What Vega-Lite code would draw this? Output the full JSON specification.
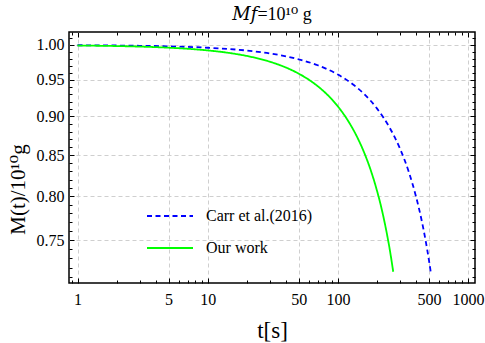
{
  "$schema": "https://vega.github.io/schema/vega-lite/v6.json",
  "width": 406,
  "height": 251,
  "autosize": {"type": "none"},
  "padding": {"left": 69, "top": 32, "right": 10, "bottom": 60},
  "background": "white",
  "title": {"text": "𝑀𝑓=10¹⁰ g", "font": "Liberation Serif, DejaVu Serif", "fontSize": 18, "fontWeight": "normal", "color": "black", "frame": "group", "anchor": "middle", "offset": 12, "dy": 18, "baseline": "alphabetic"},
  "config": {
    "view": {"stroke": "black", "strokeWidth": 1.5},
    "axis": {"domain": false, "tickColor": "black", "tickWidth": 1, "labelFont": "Liberation Serif", "labelColor": "black", "titleFont": "Liberation Serif, DejaVu Serif", "titleColor": "black", "titleFontWeight": "normal"}
  },
  "data": {"values": [
    {"t": 1, "M": 0.9996, "series": "Carr et al.(2016)"},
    {"t": 2, "M": 0.9992, "series": "Carr et al.(2016)"},
    {"t": 3, "M": 0.9988, "series": "Carr et al.(2016)"},
    {"t": 5, "M": 0.9980, "series": "Carr et al.(2016)"},
    {"t": 10, "M": 0.9959, "series": "Carr et al.(2016)"},
    {"t": 20, "M": 0.9918, "series": "Carr et al.(2016)"},
    {"t": 30, "M": 0.9876, "series": "Carr et al.(2016)"},
    {"t": 50, "M": 0.9791, "series": "Carr et al.(2016)"},
    {"t": 70, "M": 0.9705, "series": "Carr et al.(2016)"},
    {"t": 100, "M": 0.9573, "series": "Carr et al.(2016)"},
    {"t": 130, "M": 0.9437, "series": "Carr et al.(2016)"},
    {"t": 160, "M": 0.9298, "series": "Carr et al.(2016)"},
    {"t": 200, "M": 0.9104, "series": "Carr et al.(2016)"},
    {"t": 250, "M": 0.8850, "series": "Carr et al.(2016)"},
    {"t": 300, "M": 0.8582, "series": "Carr et al.(2016)"},
    {"t": 350, "M": 0.8295, "series": "Carr et al.(2016)"},
    {"t": 400, "M": 0.7985, "series": "Carr et al.(2016)"},
    {"t": 440, "M": 0.7720, "series": "Carr et al.(2016)"},
    {"t": 470, "M": 0.7508, "series": "Carr et al.(2016)"},
    {"t": 500, "M": 0.7284, "series": "Carr et al.(2016)"},
    {"t": 516, "M": 0.7159, "series": "Carr et al.(2016)"},
    {"t": 1, "M": 0.9992, "series": "Our work"},
    {"t": 2, "M": 0.9984, "series": "Our work"},
    {"t": 3, "M": 0.9976, "series": "Our work"},
    {"t": 5, "M": 0.9960, "series": "Our work"},
    {"t": 7, "M": 0.9944, "series": "Our work"},
    {"t": 10, "M": 0.9920, "series": "Our work"},
    {"t": 15, "M": 0.9880, "series": "Our work"},
    {"t": 20, "M": 0.9839, "series": "Our work"},
    {"t": 30, "M": 0.9756, "series": "Our work"},
    {"t": 40, "M": 0.9672, "series": "Our work"},
    {"t": 50, "M": 0.9586, "series": "Our work"},
    {"t": 60, "M": 0.9499, "series": "Our work"},
    {"t": 70, "M": 0.9410, "series": "Our work"},
    {"t": 80, "M": 0.9320, "series": "Our work"},
    {"t": 90, "M": 0.9228, "series": "Our work"},
    {"t": 100, "M": 0.9133, "series": "Our work"},
    {"t": 120, "M": 0.8939, "series": "Our work"},
    {"t": 140, "M": 0.8736, "series": "Our work"},
    {"t": 160, "M": 0.8523, "series": "Our work"},
    {"t": 180, "M": 0.8299, "series": "Our work"},
    {"t": 200, "M": 0.8062, "series": "Our work"},
    {"t": 220, "M": 0.7811, "series": "Our work"},
    {"t": 240, "M": 0.7540, "series": "Our work"},
    {"t": 250, "M": 0.7399, "series": "Our work"},
    {"t": 260, "M": 0.7250, "series": "Our work"},
    {"t": 266, "M": 0.7158, "series": "Our work"}
  ]},
  "resolve": {"axis": {"x": "independent", "y": "independent"}},
  "layer": [
    {
      "mark": {"type": "line", "strokeWidth": 1.8, "interpolate": "monotone"},
      "encoding": {
        "x": {"field": "t", "type": "quantitative", "scale": {"type": "log", "domain": [0.86, 1130], "nice": false},
          "axis": {"orient": "bottom", "values": [1, 5, 10, 50, 100, 500, 1000], "format": "d", "grid": true, "gridColor": "#cfcfcf", "gridDash": [4, 3], "gridWidth": 1, "tickSize": -5, "labelFontSize": 16, "labelPadding": 13, "labelFlush": false, "labelOverlap": false, "title": "t[s]", "titleFontSize": 23, "titlePadding": 12}},
        "y": {"field": "M", "type": "quantitative", "scale": {"type": "log", "domain": [0.704, 1.0193], "nice": false, "zero": false},
          "axis": {"orient": "left", "values": [0.75, 0.8, 0.85, 0.9, 0.95, 1.0], "format": ".2f", "grid": true, "gridColor": "#cfcfcf", "gridDash": [4, 3], "gridWidth": 1, "tickSize": -5, "labelFontSize": 16, "labelPadding": 10, "labelFlush": false, "labelOverlap": false, "title": "M(t)/10¹⁰g", "titleFontSize": 21, "titlePadding": 8, "titleY": 157}},
        "color": {"field": "series", "type": "nominal", "scale": {"domain": ["Carr et al.(2016)", "Our work"], "range": ["#0000ff", "#00ff00"]},
          "legend": {"orient": "none", "legendX": 77, "legendY": 160, "title": null, "symbolType": "stroke", "symbolSize": 2116, "symbolStrokeWidth": 1.8, "labelFont": "Liberation Serif", "labelFontSize": 16, "labelColor": "black", "labelOffset": 12, "rowPadding": -16, "padding": 0}},
        "strokeDash": {"field": "series", "type": "nominal", "scale": {"domain": ["Carr et al.(2016)", "Our work"], "range": [[5, 3.5], [1, 0]]},
          "legend": {"orient": "none", "legendX": 77, "legendY": 160, "title": null, "symbolType": "stroke", "symbolSize": 2116, "symbolStrokeWidth": 1.8, "labelFont": "Liberation Serif", "labelFontSize": 16, "labelColor": "black", "labelOffset": 12, "rowPadding": -16, "padding": 0}}
      }
    },
    {
      "mark": {"type": "line", "opacity": 0},
      "encoding": {
        "x": {"field": "t", "type": "quantitative", "axis": {"orient": "top", "values": [1, 5, 10, 50, 100, 500, 1000], "labels": false, "grid": false, "tickSize": -5, "title": null}},
        "y": {"field": "M", "type": "quantitative", "axis": {"orient": "right", "values": [0.75, 0.8, 0.85, 0.9, 0.95, 1.0], "labels": false, "grid": false, "tickSize": -5, "title": null}},
        "detail": {"field": "series"}
      }
    },
    {
      "mark": {"type": "line", "opacity": 0},
      "encoding": {
        "x": {"field": "t", "type": "quantitative", "axis": {"orient": "bottom", "values": [0.9, 2, 3, 4, 6, 7, 8, 9, 20, 30, 40, 60, 70, 80, 90, 200, 300, 400, 600, 700, 800, 900], "labels": false, "grid": false, "tickSize": -3, "title": null}},
        "y": {"field": "M", "type": "quantitative", "axis": {"orient": "left", "values": [0.71, 0.72, 0.73, 0.74, 0.76, 0.77, 0.78, 0.79, 0.81, 0.82, 0.83, 0.84, 0.86, 0.87, 0.88, 0.89, 0.91, 0.92, 0.93, 0.94, 0.96, 0.97, 0.98, 0.99, 1.01], "labels": false, "grid": false, "tickSize": -3, "title": null}},
        "detail": {"field": "series"}
      }
    },
    {
      "mark": {"type": "line", "opacity": 0},
      "encoding": {
        "x": {"field": "t", "type": "quantitative", "axis": {"orient": "top", "values": [0.9, 2, 3, 4, 6, 7, 8, 9, 20, 30, 40, 60, 70, 80, 90, 200, 300, 400, 600, 700, 800, 900], "labels": false, "grid": false, "tickSize": -3, "title": null}},
        "y": {"field": "M", "type": "quantitative", "axis": {"orient": "right", "values": [0.71, 0.72, 0.73, 0.74, 0.76, 0.77, 0.78, 0.79, 0.81, 0.82, 0.83, 0.84, 0.86, 0.87, 0.88, 0.89, 0.91, 0.92, 0.93, 0.94, 0.96, 0.97, 0.98, 0.99, 1.01], "labels": false, "grid": false, "tickSize": -3, "title": null}},
        "detail": {"field": "series"}
      }
    }
  ]
}
